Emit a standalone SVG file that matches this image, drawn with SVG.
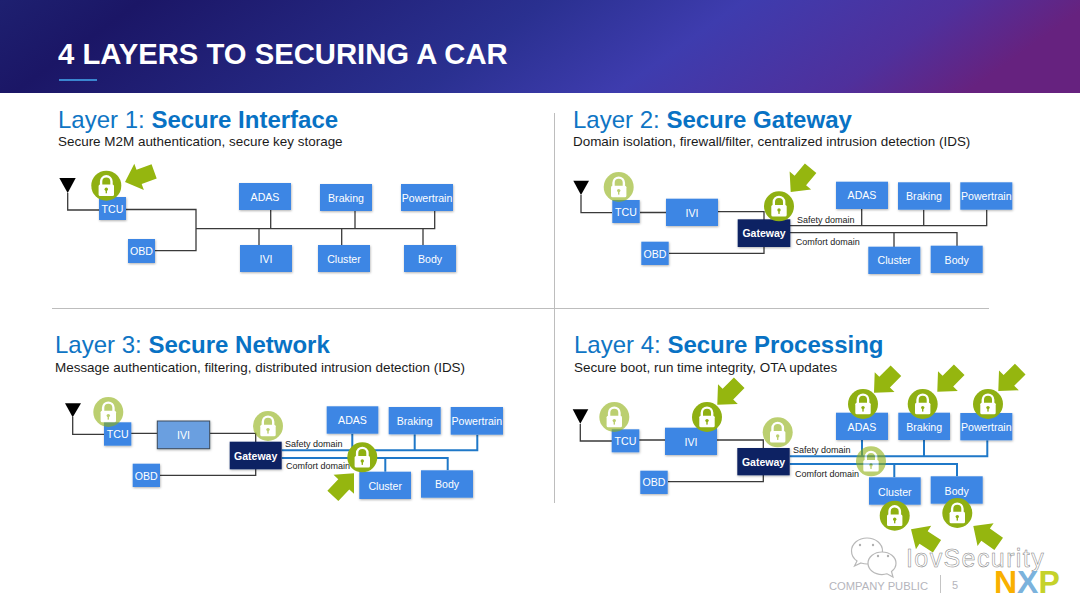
<svg xmlns="http://www.w3.org/2000/svg" width="1080" height="608" viewBox="0 0 1080 608">
<style>
text{font-family:"Liberation Sans",Arial,sans-serif}
.box{fill:#3c86e4}
.box2{fill:#6b9fe0;stroke:#3c4a5c;stroke-width:1}
.gw{fill:#0b2463}
.lbl{fill:#fff;font-size:10.6px;text-anchor:middle}
.gwt{fill:#fff;font-size:10.5px;font-weight:bold;text-anchor:middle}
.ln{fill:none;stroke:#3a3a3a;stroke-width:1.3}
.bl{fill:none;stroke:#1f78c8;stroke-width:2}
.dom{fill:#222;font-size:9px}
.hd{fill:#0f75c4;font-size:24px}
.hd tspan{fill:#0872c4;font-weight:bold}
.sub{fill:#1a1a1a;font-size:13.45px}
.arrow{fill:#95b60f}
.ant{fill:#000}
</style>
<defs>
<linearGradient id="hdr" x1="0" y1="0" x2="1" y2="0.12">
<stop offset="0" stop-color="#1e2070"/>
<stop offset=".13" stop-color="#1b1666"/>
<stop offset=".5" stop-color="#2a3090"/>
<stop offset=".68" stop-color="#3e3cae"/>
<stop offset=".88" stop-color="#4f309c"/>
<stop offset="1" stop-color="#66227f"/>
</linearGradient>
<filter id="sh" x="-10%" y="-10%" width="125%" height="130%"><feDropShadow dx="0.5" dy="1" stdDeviation="0.8" flood-color="#000" flood-opacity=".3"/></filter>
<g id="lock">
<circle r="15" fill="#8fb012"/>
<path d="M-5.2 0V-4.2a5.2 5.2 0 0 1 10.4 0V0" fill="none" stroke="#fff" stroke-width="2.4"/>
<rect x="-7.7" y="-1.3" width="15.4" height="11.5" rx="1.5" fill="#fff"/>
<circle cy="3.6" r="1.7" fill="#8fb012"/>
<rect x="-.7" y="3.6" width="1.4" height="4" fill="#8fb012"/>
</g>
<polygon id="arr" class="arrow" points="0,0 -15,-14 -15,-7.5 -31,-7.5 -31,7.5 -15,7.5 -15,14"/>
</defs>
<rect width="1080" height="608" fill="#fff"/>
<rect width="1080" height="93" fill="url(#hdr)"/>
<text x="58" y="64" fill="#fff" font-size="29.25" font-weight="bold">4 LAYERS TO SECURING A CAR</text>
<rect x="59" y="79" width="38" height="2" fill="#3a86d0"/>
<path d="M554.5 113V503M52 308.5H989" stroke="#bdbdbd" stroke-width="1" fill="none"/>

<text class="hd" x="58" y="127.5">Layer 1: <tspan>Secure Interface</tspan></text>
<text class="sub" x="58" y="146">Secure M2M authentication, secure key storage</text>
<text class="hd" x="573" y="127.5">Layer 2: <tspan>Secure Gateway</tspan></text>
<text class="sub" x="573" y="146">Domain isolation, firewall/filter, centralized intrusion detection (IDS)</text>
<text class="hd" x="55" y="353">Layer 3: <tspan>Secure Network</tspan></text>
<text class="sub" x="55" y="372">Message authentication, filtering, distributed intrusion detection (IDS)</text>
<text class="hd" x="574" y="353">Layer 4: <tspan>Secure Processing</tspan></text>
<text class="sub" x="574" y="372">Secure boot, run time integrity, OTA updates</text>

<g id="connectors">
<path class="ln" d="M67.7 193V210H100M126 209.5H196V250.7H155M196 228.7H434.7V211M270.7 228.7V210M355 228.7V211M259 228.7V245M341.7 228.7V245M423 228.7V245"/>
<path class="ln" d="M581 195V212.7H612M640 212.5H666M718 211.7H764V220M669 253.3H764V247M790 225.7H986.7V209.7M861.7 225.7V209M923.7 225.7V209.7M790 232.7H957V246M894 232.7V247"/>
<path class="ln" d="M72.7 417V434.3H104M131 433.3H157.3M210 433.3H255.7V442M160 475.3H255.7V469"/>
<path class="bl" d="M281.7 450.3H477.3V434.7M352.3 450.3V433.7M414.7 450.3V434.3M281.7 458H447.7V470.3M385.3 458V471.7"/>
<path class="ln" d="M580.3 424V441H612M639 440H665M717 440H763.3V448M668 481.7H763.3V475"/>
<path class="bl" d="M789.7 456.3H987.3V440.3M862 456.3V440M924 456.3V440M789.7 464H957V476.3M894.3 464V477.3"/>
</g>

<g id="layer1">
<polygon class="ant" points="59.3,178 75.7,178 67.7,193"/>
<g id="l1-tcu"><rect class="box" x="99" y="197" width="27" height="23" filter="url(#sh)"/><text class="lbl" x="112.5" y="213">TCU</text></g>
<g id="l1-obd"><rect class="box" x="128" y="239" width="27" height="24" filter="url(#sh)"/><text class="lbl" x="141.5" y="255">OBD</text></g>
<g id="l1-adas"><rect class="box" x="239" y="183" width="52" height="27" filter="url(#sh)"/><text class="lbl" x="265" y="201">ADAS</text></g>
<g id="l1-braking"><rect class="box" x="320" y="184" width="52" height="27" filter="url(#sh)"/><text class="lbl" x="346" y="202">Braking</text></g>
<g id="l1-powertrain"><rect class="box" x="401" y="184" width="52" height="27" filter="url(#sh)"/><text class="lbl" x="427" y="202">Powertrain</text></g>
<g id="l1-ivi"><rect class="box" x="240" y="245" width="52" height="27" filter="url(#sh)"/><text class="lbl" x="266" y="263">IVI</text></g>
<g id="l1-cluster"><rect class="box" x="318" y="245" width="52" height="27" filter="url(#sh)"/><text class="lbl" x="344" y="263">Cluster</text></g>
<g id="l1-body"><rect class="box" x="404" y="245" width="52" height="27" filter="url(#sh)"/><text class="lbl" x="430" y="263">Body</text></g>
<use href="#lock" x="106.3" y="185.7"/>
<use href="#arr" transform="translate(125 182) rotate(160)"/>
</g>

<g id="layer2">
<polygon class="ant" points="573.3,180.7 589,180.7 581,195"/>
<g id="l2-tcu"><rect class="box" x="612.3" y="200" width="27.4" height="23" filter="url(#sh)"/><text class="lbl" x="626" y="216">TCU</text></g>
<g id="l2-ivi"><rect class="box" x="666" y="198.7" width="52" height="27.3" filter="url(#sh)"/><text class="lbl" x="692" y="216.5">IVI</text></g>
<g id="l2-gateway"><rect class="gw" x="737.7" y="219.3" width="52.6" height="27.7" filter="url(#sh)"/><text class="gwt" x="764" y="237">Gateway</text></g>
<g id="l2-obd"><rect class="box" x="641.3" y="241.7" width="27.4" height="23.3" filter="url(#sh)"/><text class="lbl" x="655" y="257.5">OBD</text></g>
<g id="l2-adas"><rect class="box" x="836" y="181.7" width="52" height="27.3" filter="url(#sh)"/><text class="lbl" x="862" y="199">ADAS</text></g>
<g id="l2-braking"><rect class="box" x="898" y="182.3" width="52" height="27.4" filter="url(#sh)"/><text class="lbl" x="924" y="200">Braking</text></g>
<g id="l2-powertrain"><rect class="box" x="960.3" y="182.3" width="52" height="27.4" filter="url(#sh)"/><text class="lbl" x="986.3" y="200">Powertrain</text></g>
<g id="l2-cluster"><rect class="box" x="868.3" y="246.7" width="52" height="27.3" filter="url(#sh)"/><text class="lbl" x="894.3" y="264">Cluster</text></g>
<g id="l2-body"><rect class="box" x="930.7" y="245.7" width="52" height="27.3" filter="url(#sh)"/><text class="lbl" x="956.7" y="263.5">Body</text></g>
<text class="dom" x="797" y="222.7">Safety domain</text>
<text class="dom" x="795.7" y="245">Comfort domain</text>
<use href="#lock" x="618.7" y="187" opacity=".6"/>
<use href="#lock" x="779" y="206.3"/>
<use href="#arr" transform="translate(790.7 192) rotate(130)"/>
</g>

<g id="layer3">
<polygon class="ant" points="65,403.3 81,403.3 72.7,417.3"/>
<g id="l3-tcu"><rect class="box" x="104" y="422.3" width="27.3" height="23.4" filter="url(#sh)"/><text class="lbl" x="117.7" y="438">TCU</text></g>
<g id="l3-ivi"><rect class="box2" x="157.3" y="421" width="52.4" height="27.7" filter="url(#sh)"/><text class="lbl" x="183.5" y="439">IVI</text></g>
<g id="l3-gateway"><rect class="gw" x="229.7" y="441.7" width="52" height="27.6" filter="url(#sh)"/><text class="gwt" x="255.7" y="459.5">Gateway</text></g>
<g id="l3-obd"><rect class="box" x="132.7" y="463.7" width="27.3" height="23.3" filter="url(#sh)"/><text class="lbl" x="146.3" y="479.5">OBD</text></g>
<g id="l3-adas"><rect class="box" x="326.7" y="406.3" width="51.6" height="27.4" filter="url(#sh)"/><text class="lbl" x="352.5" y="424">ADAS</text></g>
<g id="l3-braking"><rect class="box" x="388.7" y="407" width="52" height="27.3" filter="url(#sh)"/><text class="lbl" x="414.7" y="425">Braking</text></g>
<g id="l3-powertrain"><rect class="box" x="450.7" y="407" width="52.3" height="27.7" filter="url(#sh)"/><text class="lbl" x="476.8" y="425">Powertrain</text></g>
<g id="l3-cluster"><rect class="box" x="359.3" y="471.7" width="51.7" height="27.3" filter="url(#sh)"/><text class="lbl" x="385.2" y="489.5">Cluster</text></g>
<g id="l3-body"><rect class="box" x="421" y="470.3" width="52" height="27.4" filter="url(#sh)"/><text class="lbl" x="447" y="488">Body</text></g>
<text class="dom" x="285" y="446.5">Safety domain</text>
<text class="dom" x="286" y="468.5">Comfort domain</text>
<use href="#lock" x="108.3" y="412" opacity=".6"/>
<use href="#lock" x="268" y="426" opacity=".6"/>
<use href="#lock" x="362.3" y="457.3"/>
<use href="#arr" transform="translate(354 473.3) rotate(-47)"/>
</g>

<g id="layer4">
<polygon class="ant" points="572.7,409.3 588.3,409.3 580.3,423.7"/>
<g id="l4-tcu"><rect class="box" x="611.7" y="429.3" width="27.6" height="23" filter="url(#sh)"/><text class="lbl" x="625.5" y="445">TCU</text></g>
<g id="l4-ivi"><rect class="box" x="665" y="427.7" width="52" height="27.3" filter="url(#sh)"/><text class="lbl" x="691" y="445.5">IVI</text></g>
<g id="l4-gateway"><rect class="gw" x="737.3" y="448" width="52.4" height="27.3" filter="url(#sh)"/><text class="gwt" x="763.5" y="465.5">Gateway</text></g>
<g id="l4-obd"><rect class="box" x="640.3" y="470.7" width="27.4" height="23.3" filter="url(#sh)"/><text class="lbl" x="654" y="486">OBD</text></g>
<g id="l4-adas"><rect class="box" x="836" y="412.7" width="52" height="27.3" filter="url(#sh)"/><text class="lbl" x="862" y="430.5">ADAS</text></g>
<g id="l4-braking"><rect class="box" x="898.3" y="412.7" width="51.7" height="27.3" filter="url(#sh)"/><text class="lbl" x="924.2" y="431">Braking</text></g>
<g id="l4-powertrain"><rect class="box" x="960.3" y="413" width="52" height="27.3" filter="url(#sh)"/><text class="lbl" x="986.3" y="431">Powertrain</text></g>
<g id="l4-cluster"><rect class="box" x="869" y="477.3" width="51.7" height="27.4" filter="url(#sh)"/><text class="lbl" x="894.8" y="495.5">Cluster</text></g>
<g id="l4-body"><rect class="box" x="930.7" y="476.3" width="52" height="27.4" filter="url(#sh)"/><text class="lbl" x="956.7" y="494.5">Body</text></g>
<text class="dom" x="793" y="453">Safety domain</text>
<text class="dom" x="795" y="476.5">Comfort domain</text>
<use href="#lock" x="614.3" y="417" opacity=".6"/>
<use href="#lock" x="707" y="417"/>
<use href="#lock" x="777.7" y="432.3" opacity=".6"/>
<use href="#lock" x="863" y="404"/>
<use href="#lock" x="922.7" y="404"/>
<use href="#lock" x="988" y="404"/>
<use href="#lock" x="871" y="461.3" opacity=".6"/>
<use href="#lock" x="894.7" y="515.7"/>
<use href="#lock" x="957.3" y="513"/>
<use href="#arr" transform="translate(717.3 404.7) rotate(135)"/>
<use href="#arr" transform="translate(874 392.7) rotate(135)"/>
<use href="#arr" transform="translate(937.3 391.7) rotate(135)"/>
<use href="#arr" transform="translate(998.3 391) rotate(135)"/>
<use href="#arr" transform="translate(911 529.3) rotate(213)"/>
<use href="#arr" transform="translate(973.3 526) rotate(215)"/>
</g>

<g id="watermark">
<g fill="#fff" stroke="#b8b8b8" stroke-width="1.2">
<path d="M867 538c-8.600 0-15.500 5.800-15.500 13 0 4 2 7.500 5.500 10l-2.500 5 6.500-3c2 .6 4 1 6 1 8.600 0 15.500-5.800 15.500-13s-6.900-13-15.500-13z"/>
<path d="M882 552c-7.700 0-14 5-14 11.300s6.300 11.300 14 11.300c1.800 0 3.500-.3 5-.8l6 3.200-1.500-5.500c2.800-2 4.500-4.900 4.500-8.200 0-6.300-6.300-11.300-14-11.300z"/>
</g>
<g fill="#b0b0b0"><circle cx="860" cy="545" r="1.2"/><circle cx="873" cy="545" r="1.2"/><circle cx="878" cy="556" r="1.2"/><circle cx="888" cy="556" r="1.2"/></g>
<text x="906" y="567" font-size="25" letter-spacing="1.4" fill="#fff" stroke="#808080" stroke-width=".5">IovSecurity</text>
</g>

<g id="footer">
<text x="829" y="590" font-size="11.2" fill="#b5b5bc">COMPANY PUBLIC</text>
<path d="M940.500 575V593" stroke="#c4c4c4" fill="none"/>
<text x="952" y="589" font-size="11" fill="#b5b5bc">5</text>
<text x="994" y="593" font-size="32" font-weight="bold"><tspan fill="#f9b000">N</tspan><tspan fill="#7bb2dc">X</tspan><tspan fill="#c5d22a">P</tspan></text>
</g>
</svg>
